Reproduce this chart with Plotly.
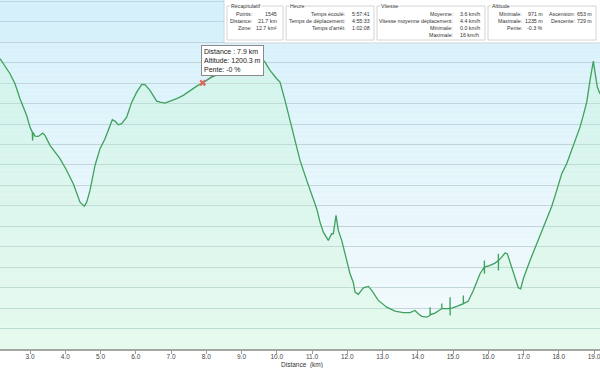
import plotly.graph_objects as go

# ---------------- data ----------------
dist_km = [2.149, 2.339, 2.433, 2.575, 2.716, 2.906, 3.000, 3.065, 3.074, 3.085, 3.142, 3.235, 3.360, 3.426,
           3.567, 3.709, 3.851, 4.041, 4.228, 4.419, 4.541, 4.609, 4.702, 4.844, 4.986, 5.128, 5.270, 5.335,
           5.411, 5.505, 5.601, 5.743, 5.885, 6.027, 6.169, 6.262, 6.404, 6.594, 6.688, 6.830, 6.972, 7.162,
           7.349, 7.539, 7.729, 7.900, 8.058, 8.155, 8.333, 8.617, 8.958, 9.298, 9.525, 9.667, 9.809, 9.999,
           10.092, 10.234, 10.376, 10.518, 10.660, 10.850, 10.992, 11.133, 11.227, 11.321, 11.463, 11.559,
           11.605, 11.681, 11.746, 11.843, 11.985, 12.078, 12.172, 12.220, 12.313, 12.456, 12.597, 12.694,
           12.881, 13.119, 13.355, 13.590, 13.780, 13.922, 14.016, 14.112, 14.254, 14.348, 14.350, 14.352,
           14.489, 14.679, 14.681, 14.683, 14.821, 14.915, 14.917, 14.919, 14.921, 15.105, 15.292, 15.294,
           15.296, 15.434, 15.576, 15.766, 15.888, 15.890, 15.892, 15.895, 16.050, 16.191, 16.285, 16.287,
           16.289, 16.291, 16.381, 16.475, 16.540, 16.637, 16.759, 16.853, 16.921, 16.994, 17.185, 17.375,
           17.562, 17.658, 17.800, 17.942, 18.084, 18.225, 18.367, 18.489, 18.603, 18.696, 18.793, 18.887,
           18.952, 18.981, 19.028, 19.094, 19.170]
alt_m = [1223.9, 1214.1, 1209.2, 1199.4, 1184.8, 1168.4, 1157.0, 1152.1, 1144.0, 1151.8, 1148.2, 1147.9, 1151.1, 1148.9,
         1139.1, 1132.5, 1126.1, 1114.6, 1101.6, 1083.6, 1079.7, 1083.6, 1095.1, 1119.5, 1135.9, 1145.6, 1158.6, 1164.2,
         1162.9, 1159.3, 1160.3, 1166.8, 1181.4, 1191.2, 1198.7, 1198.5, 1192.9, 1182.4, 1181.4, 1180.5, 1182.4, 1184.8,
         1188.0, 1192.9, 1197.1, 1200.3, 1204.3, 1205.9, 1208.5, 1212.4, 1217.3, 1223.2, 1226.1, 1220.6, 1212.4, 1204.3,
         1201.0, 1183.1, 1163.5, 1144.0, 1124.4, 1104.9, 1091.9, 1077.2, 1064.1, 1054.3, 1046.2, 1052.7,
         1052.7, 1070.6, 1056.0, 1046.2, 1026.6, 1013.6, 1005.1, 995.6, 993.4, 999.9, 1001.2, 997.3,
         987.5, 980.9, 977.0, 975.5, 975.5, 977.7, 974.5, 971.9, 971.2, 972.8, 980.9, 973.5,
         975.1, 979.4, 984.6, 979.4, 979.4, 979.4, 990.7, 972.8, 979.4, 981.6, 984.3, 992.4,
         984.3, 986.8, 997.3, 1013.6, 1020.1, 1026.6, 1013.6, 1020.1, 1021.7, 1024.0, 1026.6, 1033.2,
         1016.8, 1026.6, 1029.8, 1033.8, 1033.2, 1023.4, 1010.3, 999.9, 998.9, 1008.7, 1026.6, 1043.0,
         1059.2, 1069.0, 1079.4, 1095.1, 1111.4, 1121.2, 1134.2, 1147.2, 1157.0, 1168.4, 1181.4, 1202.7,
         1214.1, 1221.5, 1210.8, 1196.1, 1189.7]

x_ticks = [3, 4, 5, 6, 7, 8, 9, 10, 11, 12, 13, 14, 15, 16, 17, 18, 19]
x_title = "Distance  (km)"

cursor_km = 7.9
cursor_alt = 1200.3
cursor_slope = "-0 %"

recap_title = "Récapitulatif"
recap_labels = ["Points:", "Distance:", "Zone:"]
recap_values = ["1545", "21.7 km", "12.7 km²"]
heure_title = "Heure"
heure_labels = ["Temps écoulé:", "Temps de déplacement:", "Temps d'arrêt:"]
heure_values = ["5:57:41", "4:55:33", "1:02:08"]
vitesse_title = "Vitesse"
vitesse_labels = ["Moyenne:", "Vitesse moyenne déplacement:", "Minimale:", "Maximale:"]
vitesse_values = ["3.6 km/h", "4.4 km/h", "0.0 km/h", "16 km/h"]
altitude_title = "Altitude"
alt_labels1 = ["Minimale:", "Maximale:", "Pente:"]
alt_values1 = ["971 m", "1235 m", "-0.3 %"]
alt_labels2 = ["Ascension:", "Descente:"]
alt_values2 = ["653 m", "729 m"]

# ---------------- layout helpers ----------------
W, H = 600, 368
PH = 349  # plot area height in px


def px(x):
    return x / W


def py(y):
    return 1 - y / PH


FONT = "Liberation Sans, Arial, sans-serif"
PANEL_FONT = "Liberation Sans, Arial, sans-serif"
PANEL_SIZE = 5.3
TXT = "#333333"

fig = go.Figure()

# profile with light green fill under it
fig.add_trace(go.Scatter(
    x=dist_km, y=alt_m, mode="lines",
    line=dict(color="#3fa15e", width=1.3),
    fill="tozeroy", fillcolor="rgba(190,246,196,0.24)",
    hoverinfo="skip", showlegend=False,
))
# cursor marker
fig.add_trace(go.Scatter(
    x=[cursor_km], y=[cursor_alt], mode="markers",
    marker=dict(symbol="x", size=6, color="#e2695a", line=dict(width=0)),
    hoverinfo="skip", showlegend=False,
))

shapes = []
# vertical background gradient (blue top -> near white bottom)
top = (212, 240, 251)
bot = (244, 251, 252)
n = 70
for i in range(n):
    t = (i + 0.5) / n
    c = tuple(round(bot[k] + (top[k] - bot[k]) * t) for k in range(3))
    shapes.append(dict(type="rect", xref="paper", yref="paper", x0=0, x1=1,
                       y0=i / n, y1=(i + 1) / n, line=dict(width=0),
                       fillcolor="rgb(%d,%d,%d)" % c, layer="below"))

# info panel
shapes.append(dict(type="rect", xref="paper", yref="paper", x0=px(224), x1=px(600.5),
                   y0=py(43), y1=py(-1), fillcolor="white",
                   line=dict(color="#cfd6da", width=1), layer="above"))
groups = [(227, 283), (286, 374), (377, 485), (488, 596)]
for g0, g1 in groups:
    shapes.append(dict(type="rect", xref="paper", yref="paper", x0=px(g0), x1=px(g1),
                       y0=py(40), y1=py(6), fillcolor="white",
                       line=dict(color="#d4d4d4", width=1), layer="above"))

annotations = []
titles = [recap_title, heure_title, vitesse_title, altitude_title]
for (g0, g1), ttl in zip(groups, titles):
    annotations.append(dict(x=px(g0 + 3), y=py(6), xref="paper", yref="paper", text=ttl,
                            showarrow=False, xanchor="left", yanchor="middle",
                            font=dict(family=PANEL_FONT, size=PANEL_SIZE, color=TXT),
                            bgcolor="white", borderpad=0))

rows = [14, 21, 28, 35]


def col(texts, x, anchor):
    for i, t in enumerate(texts):
        annotations.append(dict(x=px(x), y=py(rows[i]), xref="paper", yref="paper", text=t,
                                showarrow=False, xanchor=anchor, yanchor="middle",
                                font=dict(family=PANEL_FONT, size=PANEL_SIZE, color=TXT)))


col(recap_labels, 254, "right")
col(recap_values, 279, "right")
col(heure_labels, 347, "right")
col(heure_values, 350, "left")
col(vitesse_labels, 455, "right")
col(vitesse_values, 458, "left")
col(alt_labels1, 524, "right")
col(alt_values1, 545, "right")
col(alt_labels2, 577, "right")
col(alt_values2, 594, "right")

# tooltip
annotations.append(dict(
    x=cursor_km, y=cursor_alt, xref="x", yref="y",
    text="Distance : %.1f km<br>Altitude: %.1f m<br>Pente: %s" % (cursor_km, cursor_alt, cursor_slope),
    showarrow=True, arrowhead=0, arrowwidth=1, arrowcolor="#8a8a8a",
    ax=30, ay=-22, align="left",
    font=dict(family=FONT, size=7, color="#222222"),
    bgcolor="white", bordercolor="#8a8a8a", borderwidth=1, borderpad=2,
))

# x-axis title
annotations.append(dict(x=px(302), y=py(365), xref="paper", yref="paper", text=x_title,
                        showarrow=False, xanchor="center", yanchor="middle",
                        font=dict(family=FONT, size=6.5, color="#333333")))

fig.update_layout(
    width=W, height=H,
    margin=dict(l=0, r=0, t=0, b=H - PH),
    paper_bgcolor="white", plot_bgcolor="rgba(0,0,0,0)",
    shapes=shapes, annotations=annotations,
    showlegend=False,
    xaxis=dict(range=[2.149, 19.17], tickvals=x_ticks, tickformat=".1f",
               ticks="outside", ticklen=3, tickcolor="#9a9a9a",
               showline=True, linecolor="#a5a5a5", linewidth=1.5,
               showgrid=False, zeroline=False, ticklabeloverflow="allow",
               ticklabelstandoff=-3,
               tickfont=dict(family=FONT, size=6.5, color="#444444"),
               automargin=False, fixedrange=True),
    yaxis=dict(range=[940, 1281.3], tick0=940, dtick=20, showgrid=True,
               gridcolor="#c2d5db", gridwidth=1, showticklabels=False,
               zeroline=False, showline=False, ticks="", automargin=False,
               fixedrange=True),
)

fig.write_html("out.html", config={"displayModeBar": False},
               post_script="document.body.style.margin='0';document.body.style.padding='0';")
